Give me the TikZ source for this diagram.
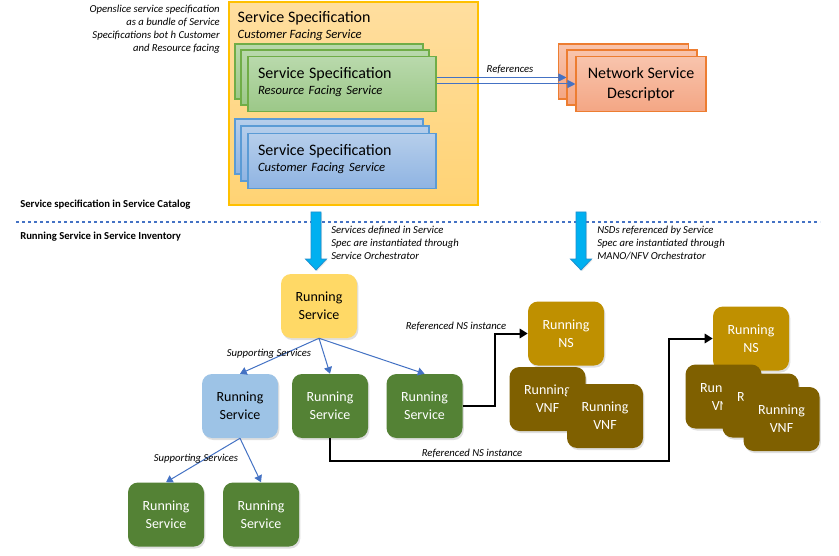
\documentclass[tikz,border=0pt]{standalone}
\usepackage{fontspec}
\setmainfont{Carlito}
\usepackage{tikz}
\usetikzlibrary{arrows.meta,shadows,calc}
\definecolor{cattop}{HTML}{FFDE9F}
\definecolor{catbot}{HTML}{FFD374}
\definecolor{catline}{HTML}{FFC000}
\definecolor{rfstop}{HTML}{B9D9AC}
\definecolor{rfsbot}{HTML}{9CC888}
\definecolor{rfsline}{HTML}{70AD47}
\definecolor{cfstop}{HTML}{B6CEEB}
\definecolor{cfsbot}{HTML}{8FB4E2}
\definecolor{cfsline}{HTML}{5B9BD5}
\definecolor{nsdtop}{HTML}{F8C4AD}
\definecolor{nsdbot}{HTML}{F4A684}
\definecolor{nsdline}{HTML}{ED7D31}
\definecolor{runyel}{HTML}{FFD966}
\definecolor{runblue}{HTML}{9DC3E6}
\definecolor{rungreen}{HTML}{548235}
\definecolor{runns}{HTML}{BF9000}
\definecolor{runvnf}{HTML}{7F6000}
\definecolor{link}{HTML}{4472C4}
\definecolor{bigblue}{HTML}{00B0F0}
\definecolor{bigline}{HTML}{1F8FCF}
\tikzset{
  catbox/.style={draw=catline, line width=0.8pt, top color=cattop, bottom color=catbot,
    minimum width=186.75pt, minimum height=152.25pt, inner sep=0pt},
  spec/.style={line width=0.8pt, text width=126pt, inner xsep=7.5pt, minimum height=41.25pt,
    align=left},
  rfs/.style={spec, draw=rfsline, top color=rfstop, bottom color=rfsbot},
  cfs/.style={spec, draw=cfsline, top color=cfstop, bottom color=cfsbot},
  nsd/.style={draw=nsdline, line width=0.8pt, top color=nsdtop, bottom color=nsdbot,
    minimum width=97.5pt, minimum height=41.25pt, align=center,
    font=\fontsize{12}{15}\selectfont},
  run/.style={rounded corners=7.5pt, minimum width=57pt, minimum height=48pt, inner sep=0pt,
    align=center, font=\fontsize{10.5}{13.5}\selectfont,
    drop shadow={shadow xshift=1pt, shadow yshift=-1.5pt, opacity=0.25}},
  runy/.style={run, fill=runyel, text=black},
  runb/.style={run, fill=runblue, text=black},
  rung/.style={run, fill=rungreen, text=white},
  runn/.style={run, fill=runns, text=white},
  runv/.style={run, fill=runvnf, text=white},
  lab/.style={font=\fontsize{8}{9.75}\selectfont\itshape, inner sep=0pt},
  sect/.style={font=\fontsize{8}{10}\selectfont\bfseries, inner sep=0pt, anchor=west},
  supp/.style={draw=link, line width=0.75pt, -{Triangle[width=6pt,length=5pt]}},
  nsref/.style={draw=black, line width=1.5pt, -{Triangle[width=7pt,length=6pt]}},
  bigarr/.style={fill=bigblue, draw=bigline, line width=0.6pt,
    drop shadow={shadow xshift=0.8pt, shadow yshift=-0.8pt, opacity=0.2}},
  sep/.style={draw=link, line width=0.8pt, dash pattern=on 2.5pt off 2pt}
}
\newcommand{\spectxt}[1]{{\fontsize{12}{13.5}\selectfont Service Specification}\\
  {\fontsize{9.5}{13.5}\selectfont\itshape #1}}

\begin{document}
\begin{tikzpicture}[x=0.75pt, y=-0.75pt]
  \path[fill=white, use as bounding box] (0,0) rectangle (839,556);

  % service catalog
  \node[catbox] (catalog) at (353.5,103.5) {};
  \node[anchor=north west, align=left, inner sep=0pt] (cattxt)
    at ($(catalog.north west)+(9,10)$) {\spectxt{Customer Facing Service}};

  \node[rfs] (rfs1) at (329,71.5) {};
  \node[rfs] (rfs2) at (335,77.5) {};
  \node[rfs, text depth=16.5pt] (rfs3) at (342,84) {\spectxt{Resource Facing Service}};

  \node[cfs] (cfs1) at (329,146.5) {};
  \node[cfs] (cfs2) at (335,153.5) {};
  \node[cfs, text depth=16.5pt] (cfs3) at (342,161) {\spectxt{Customer Facing Service}};

  \node[nsd] (nsd1) at (623.5,71.5) {};
  \node[nsd] (nsd2) at (632,77.5) {};
  \node[nsd] (nsd3) at (641,84) {Network Service\\Descriptor};

  \draw[link, line width=0.75pt, -{Triangle[width=6pt,length=6pt]}] (rfs3.east |- nsd2.west) -- (nsd2.west);
  \draw[link, line width=0.75pt, -{Triangle[width=6pt,length=6pt]}] (rfs3.east) -- (nsd3.west);
  \node[lab] (refs) at (510,69) {References};

  \node[lab, anchor=north east, align=right] (note) at (220,5)
    {Openslice service specification\\as a bundle of Service\\Specifications bot h Customer\\and Resource facing};

  % catalog / inventory border
  \node[sect] (catlab) at (20,205) {Service specification in Service Catalog};
  \draw[sep] (16,222) -- (820,222);
  \node[sect] (invlab) at (20,237) {Running Service in Service Inventory};

  \foreach \ax in {316,581}
    \draw[bigarr] (\ax-5,212) -- (\ax+5,212) -- (\ax+5,259) -- (\ax+10.5,259) -- (\ax,270)
      -- (\ax-10.5,259) -- (\ax-5,259) -- cycle;
  \node[lab, anchor=north west, align=left] (so) at (331,226)
    {Services defined in Service\\Spec are instantiated through\\Service Orchestrator};
  \node[lab, anchor=north west, align=left] (nfvo) at (597,226)
    {NSDs referenced by Service\\Spec are instantiated through\\MANO/NFV Orchestrator};

  % service inventory
  \node[runy] (rs0) at (319,306) {Running\\Service};
  \node[runb] (rs1) at (240,406) {Running\\Service};
  \node[rung] (rs2) at (330,406) {Running\\Service};
  \node[rung] (rs3) at (424.5,406) {Running\\Service};
  \node[rung] (rs4) at (166,514.5) {Running\\Service};
  \node[rung] (rs5) at (261,514.5) {Running\\Service};

  \node[runn] (ns1) at (566,333.5) {Running\\NS};
  \node[runv] (vnf1) at (547.5,399) {Running\\VNF};
  \node[runv] (vnf2) at (605,416) {Running\\VNF};

  \node[runn] (ns2) at (751,338.5) {Running\\NS};
  \node[runv] (vnf3) at (723.5,396.5) {Running\\VNF};
  \node[runv] (vnf4) at (760.5,405.5) {Running\\VNF};
  \node[runv] (vnf5) at (781.5,419) {Running\\VNF};

  \draw[supp] (rs0.south) -- (rs1.north);
  \draw[supp] (rs0.south) -- (rs2.north);
  \draw[supp] (rs0.south) -- (rs3.north);
  \node[lab] (sup1) at (269,354) {Supporting Services};

  \draw[supp] (rs1.south) -- (rs4.north);
  \draw[supp] (rs1.south) -- (rs5.north);
  \node[lab] (sup2) at (196,459) {Supporting Services};

  \draw[nsref] (rs3.east) -- ++(32,0) |- (ns1.west);
  \node[lab] (ref1) at (456,326) {Referenced NS instance};

  \coordinate (bend) at (669,461);
  \draw[nsref] (rs2.south) |- (bend) |- (ns2.west);
  \node[lab] (ref2) at (472,453) {Referenced NS instance};
\end{tikzpicture}
\end{document}
